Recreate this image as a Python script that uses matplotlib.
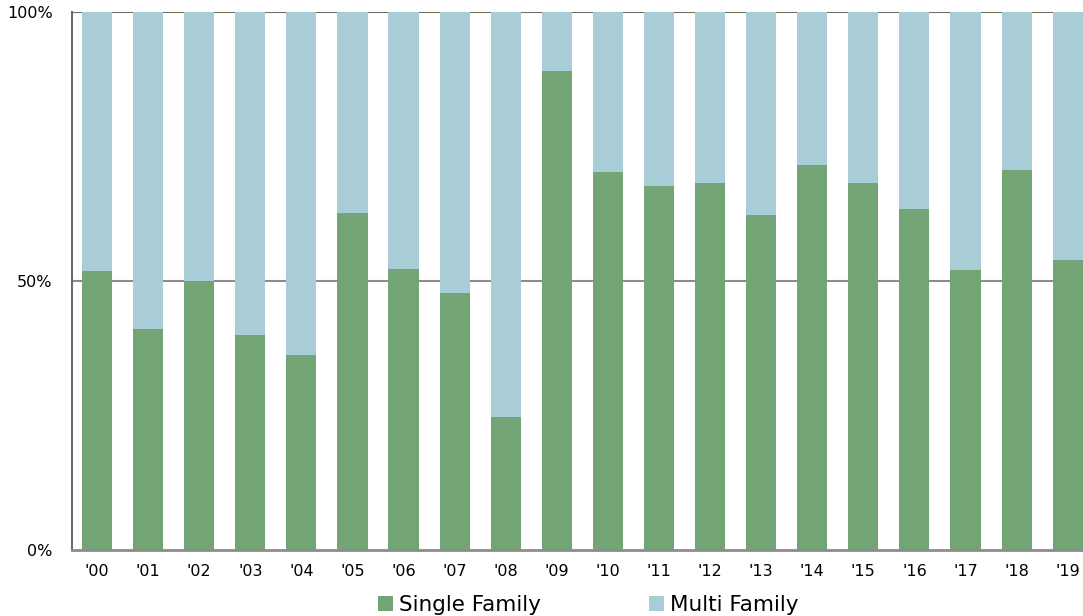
import numpy as np
import matplotlib
matplotlib.use('Agg')
from matplotlib import pyplot as plt

# 연도별 단독/다세대 비율 (%)
years = ["'00", "'01", "'02", "'03", "'04", "'05", "'06", "'07", "'08", "'09",
         "'10", "'11", "'12", "'13", "'14", "'15", "'16", "'17", "'18", "'19"]
single = [51.9, 41.1, 50.0, 40.0, 36.2, 62.6, 52.2, 47.8, 24.7, 89.0,
          70.3, 67.7, 68.2, 62.3, 71.6, 68.2, 63.4, 52.0, 70.6, 53.9]
multi = [100 - v for v in single]

green = '#72A476'
blue = '#A9CDD6'

plt.rcParams['font.family'] = ['DejaVu Sans']

fig = plt.figure(figsize=(10.83, 6.16), dpi=100)
ax = fig.add_axes([0.0665, 0.107, 0.9335, 0.873])

x = np.arange(len(years))
ax.bar(x, single, width=0.59, color=green, label='Single Family', zorder=2)
ax.bar(x, multi, width=0.59, bottom=single, color=blue, label='Multi Family', zorder=2)

ax.set_ylim(0, 100)
ax.set_xlim(-0.49, 19.3)
ax.set_yticks([0, 50, 100])
ax.set_yticklabels(['0%', '50%', '100%'], fontsize=11.5)
ax.set_xticks(x)
ax.set_xticklabels(years, fontsize=11.5)
ax.tick_params(length=0, pad=10)
ax.tick_params(axis='y', pad=14)

ax.axhline(50, color='#8C8C8C', lw=1.5, zorder=1)
ax.axhline(100, color='#6E6E5E', lw=1.5, zorder=1)
for s in ['top', 'right']:
    ax.spines[s].set_visible(False)
ax.spines['left'].set_color('#6E6E5E')
ax.spines['left'].set_linewidth(1.5)
ax.spines['bottom'].set_color('#8C8C8C')
ax.spines['bottom'].set_linewidth(2)

leg = fig.legend(loc='lower center', bbox_to_anchor=(0.543, -0.03), ncol=2,
                 frameon=False, fontsize=15.5, handlelength=0.7, handleheight=0.7,
                 handletextpad=0.3, columnspacing=5.0)

plt.savefig('out.png', dpi=100)
